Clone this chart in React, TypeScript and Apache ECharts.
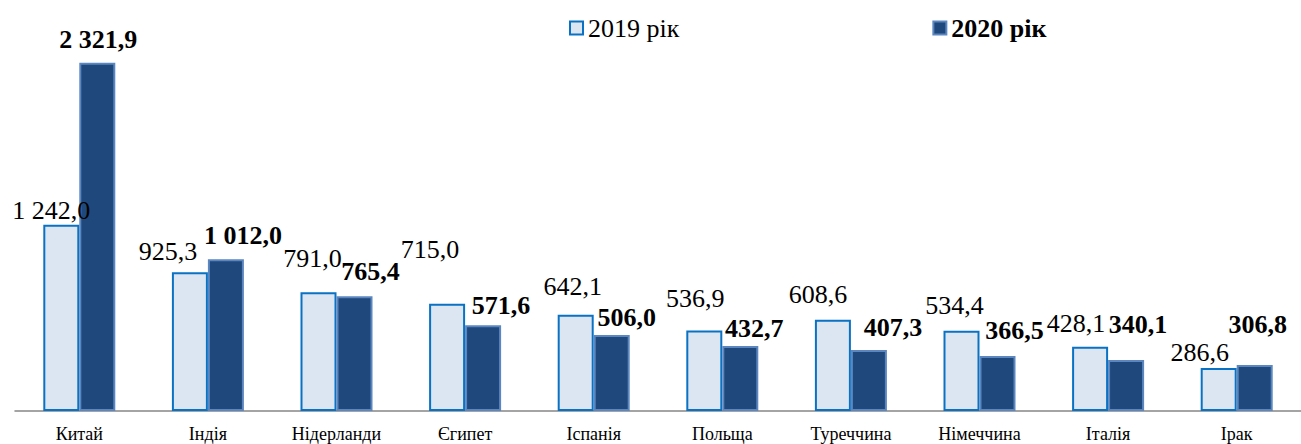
import React, { useEffect, useRef } from "react";
import * as echarts from "echarts";

const categories = ["Китай", "Індія", "Нідерланди", "Єгипет", "Іспанія", "Польща", "Туреччина", "Німеччина", "Італія", "Ірак"];
const values2019 = [1242.0, 925.3, 791.0, 715.0, 642.1, 536.9, 608.6, 534.4, 428.1, 286.6];
const values2020 = [2321.9, 1012.0, 765.4, 571.6, 506.0, 432.7, 407.3, 366.5, 340.1, 306.8];
const seriesNames = ["2019 рік", "2020 рік"];

// label nudges (layout only, mimicking manually placed labels)
const nudge2019 = [[-10, 4], [-22, -3], [-6, -16], [-17, -36], [-3, -10], [-9, -14], [-15, -7], [-7, -7], [-14, -5], [-19, 2]];
const nudge2020 = [[1, -5], [17, -6], [16, -7], [18, -2], [15, 0], [14, 0], [24, -4], [17, -8], [12, -17], [3, -22]];

const FONT = "Times New Roman, Liberation Serif, serif";
const fmt = (v: number) => {
  const s = v.toFixed(1).replace(".", ",");
  const [i, d] = s.split(",");
  return i.replace(/\B(?=(\d{3})+(?!\d))/g, " ") + "," + d;
};

export default function App() {
  const ref = useRef<HTMLDivElement>(null);
  useEffect(() => {
    if (!ref.current) return;
    const chart = echarts.init(ref.current, undefined, { renderer: "svg" });
    const mk = (vals: number[], nudges: number[][]) =>
      vals.map((v, i) => ({
        value: v,
        label: { offset: nudges[i] },
      }));
    chart.setOption({
      animation: false,
      backgroundColor: "#ffffff",
      textStyle: { fontFamily: FONT },
      legend: {
        left: 564,
        top: 10,
        itemWidth: 13,
        itemHeight: 13,
        itemGap: 253,
        icon: "rect",
        textStyle: { fontFamily: FONT, fontSize: 26, color: "#000" },
        data: [
          { name: seriesNames[0], textStyle: { fontFamily: FONT, fontSize: 26, fontWeight: "normal" } },
          { name: seriesNames[1], textStyle: { fontFamily: FONT, fontSize: 26, fontWeight: "bold" } },
        ],
      },
      grid: { left: 15, right: -10, top: 21, bottom: 33 },
      xAxis: {
        type: "category",
        data: categories,
        axisLine: { lineStyle: { color: "#868686", width: 1.5 } },
        axisTick: { length: 5, lineStyle: { color: "#868686" } },
        axisLabel: { color: "#000", fontFamily: FONT, fontSize: 18, margin: 14, interval: 0 },
      },
      yAxis: { type: "value", min: 0, max: 2600, show: false, splitLine: { show: false } },
      series: [
        {
          name: seriesNames[0],
          type: "bar",
          barWidth: 36,
          barGap: "0%",
          data: mk(values2019, nudge2019),
          itemStyle: { color: "#dce6f2", borderColor: "#0a72c4", borderWidth: 2 },
          label: {
            show: true,
            position: "top",
            fontFamily: FONT,
            fontSize: 26,
            color: "#000",
            formatter: (p: any) => fmt(p.value),
          },
        },
        {
          name: seriesNames[1],
          type: "bar",
          barWidth: 36,
          barGap: "0%",
          data: mk(values2020, nudge2020),
          itemStyle: { color: "#1f497d", borderColor: "#5b86bf", borderWidth: 2 },
          label: {
            show: true,
            position: "top",
            fontFamily: FONT,
            fontSize: 26,
            fontWeight: "bold",
            color: "#000",
            formatter: (p: any) => fmt(p.value),
          },
        },
      ],
    });
    return () => chart.dispose();
  }, []);
  return <div ref={ref} style={{ position: "absolute", left: 0, top: 0, width: 1301, height: 444 }} />;
}
